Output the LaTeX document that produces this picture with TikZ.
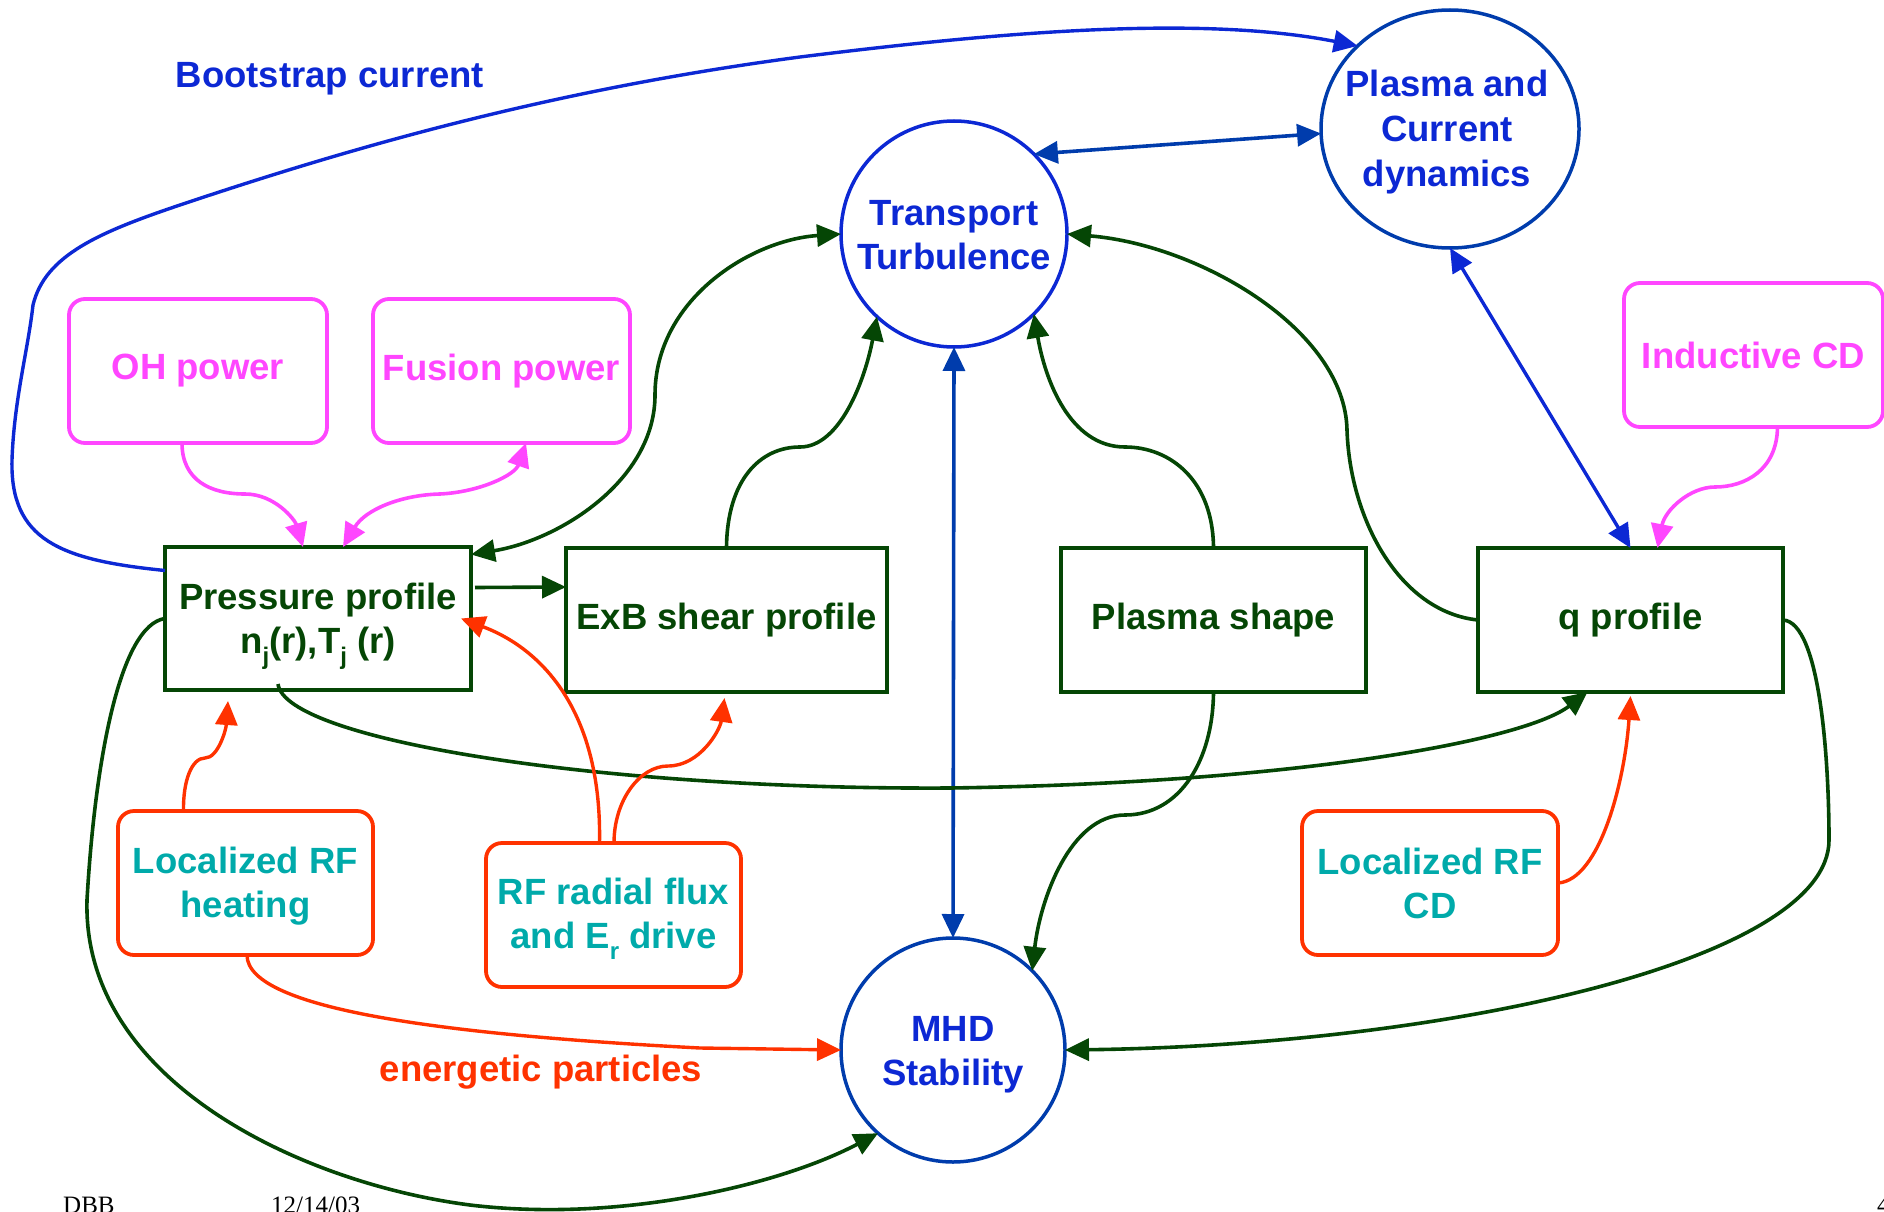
\documentclass[tikz,border=0pt]{standalone}
\usepackage{fontspec}
\setmainfont{Liberation Sans}
\newfontfamily\datefont{Liberation Serif}
\usetikzlibrary{arrows.meta,shapes.geometric,calc}
\definecolor{dgreen}{RGB}{5,70,5}
\definecolor{tblue}{RGB}{12,40,212}
\definecolor{dblue}{RGB}{0,60,172}
\definecolor{pinkc}{RGB}{255,70,255}
\definecolor{redc}{RGB}{255,50,0}
\definecolor{tealc}{RGB}{0,170,170}
\newcommand\lowsub[1]{\raisebox{-11pt}{\fontsize{24}{24}\selectfont #1}}
\begin{document}
\begin{tikzpicture}[x=1pt,y=-1pt,
  >={Triangle[length=24pt,width=22pt]},
  txt/.style={font=\fontsize{36.5}{44}\selectfont\bfseries, align=center},
  gbox/.style={txt, draw=dgreen, line width=4pt, text=dgreen, minimum width=#1, minimum height=144pt, inner sep=0pt, outer sep=0pt},
  gbox/.default=305pt,
  pbox/.style={txt, draw=pinkc, line width=3.8pt, text=pinkc, rounded corners=16pt, minimum width=#1, minimum height=144pt, inner sep=0pt, outer sep=0pt},
  pbox/.default=258pt,
  rbox/.style={txt, draw=redc, line width=3.8pt, text=tealc, rounded corners=16pt, minimum width=#1, minimum height=144pt, inner sep=0pt, outer sep=0pt},
  rbox/.default=256pt,
  ctext/.style={txt, text=tblue, inner sep=0pt},
  circ/.style={circle, line width=3.5pt, inner sep=0pt, outer sep=0pt},
  gline/.style={draw=dgreen, line width=3.6pt},
  rline/.style={draw=redc, line width=3.4pt},
  pline/.style={draw=pinkc, line width=3.6pt},
  bline/.style={draw=tblue, line width=3.4pt},
  dline/.style={draw=dblue, line width=3.6pt},
  lbl/.style={txt, inner sep=0pt},
  foot/.style={font=\datefont\fontsize{25}{25}\selectfont, inner sep=0pt, anchor=base west}
]
\useasboundingbox (0,0) rectangle (1884,1212);
\clip (0,0) rectangle (1884,1212);

% main nodes
\node[circ, draw=tblue, minimum size=226pt, label={[ctext, yshift=-1pt]center:{Transport\\Turbulence}}] (tt) at (954,234) {};
\node[ellipse, draw=dblue, line width=3.5pt, inner sep=0pt, outer sep=0pt, minimum width=258pt, minimum height=238pt, label={[ctext, xshift=-3pt, yshift=-3pt, font=\fontsize{36.5}{45}\selectfont\bfseries]center:{Plasma and\\Current\\dynamics}}] (pcd) at (1450,129) {};
\node[circ, draw=dblue, minimum size=224pt, label={[ctext, yshift=-5pt]center:{MHD\\Stability}}] (mhd) at (953,1050) {};

\node[gbox=306pt, minimum height=143pt, label={[txt, text=dgreen, inner sep=0pt, yshift=-8pt]center:{Pressure profile\\n\lowsub{j}(r),T\lowsub{j} (r)}}] (p) at (318,618.5) {};
\node[gbox=321pt] (e) at (726.5,620) {ExB shear profile};
\node[gbox] (s) at (1213.5,620) {Plasma shape};
\node[gbox] (q) at (1630.5,620) {q profile};

\node[pbox] (oh) at (198,371) {OH power};
\node[pbox=257pt] (fu) at (501.5,371) {Fusion power};
\node[pbox=259pt] (ind) at (1753.5,355) {Inductive CD};

\node[rbox=255pt, label={[txt, text=tealc, inner sep=0pt, yshift=-3pt]center:{Localized RF\\heating}}] (h) at (245.5,883) {};
\node[rbox=255pt, label={[txt, text=tealc, inner sep=0pt, yshift=-4pt]center:{RF radial flux\\and E\lowsub{r} drive}}] (r) at (613.5,915) {};
\node[rbox] (cd) at (1430,883) {Localized RF\\CD};

% labels
\node[lbl, text=tblue] (bslabel) at (330,79) {Bootstrap current};
\node[lbl, text=redc] (eplabel) at (541,1072) {energetic particles};
\node[foot] (dbb) at (63,1213) {DBB};
\node[foot] (date) at (271,1213) {12/14/03};
\node[foot] (pg) at (1877,1213) {4};

% bootstrap current
\draw[bline, ->] ($(p.west)+(0,-48)$) .. controls (60,560) and (10,540) .. (12,460)
  .. controls (14,400) and (28,350) .. (33,305)
  .. controls (45,255) and (100,232) .. (180,205)
  .. controls (350,148) and (550,90) .. (800,57)
  .. controls (1000,32) and (1200,15) .. (pcd.138);

% blue double arrows
\draw[dline, <->] (tt.45) -- (pcd.182);
\draw[bline, <->] (pcd.south) -- (q.north);
\draw[dline, <->] (tt.south) -- (mhd.north);

% pink
\draw[pline, ->] ($(oh.south)+(-16,0)$) .. controls (182,480) and (210,494) .. (245,494)
  .. controls (275,494) and (295,520) .. ($(p.north)+(-15,0)$);
\draw[pline, <->] ($(p.north)+(25,0)$) .. controls (365,510) and (400,495) .. (440,494)
  .. controls (480,492) and (515,475) .. ($(fu.south)+(24.5,0)$);
\draw[pline, ->] ($(ind.south)+(24,0)$) .. controls (1777,470) and (1745,487) .. (1715,487)
  .. controls (1690,487) and (1665,510) .. ($(q.north)+(27,0)$);

% green
\draw[gline, ->] ($(p.east)+(4,-31)$) -- ($(e.west)+(0,-33)$);
\draw[gline, <->] ($(p.east)+(0,-64)$) .. controls (560,540) and (655,480) .. (655,395)
  .. controls (655,300) and (750,240) .. (tt.west);
\draw[gline, ->] (e.north) .. controls (727,480) and (760,447) .. (800,447)
  .. controls (840,447) and (865,380) .. (tt.227);
\draw[gline, ->] (s.north) .. controls (1213,480) and (1170,447) .. (1125,447)
  .. controls (1070,447) and (1045,380) .. (tt.315);
\draw[gline, ->] (q.west) .. controls (1400,612) and (1350,520) .. (1347,430)
  .. controls (1345,330) and (1200,245) .. (tt.east);
\draw[gline, ->] ($(p.south)+(-40,-6)$) .. controls (285,740) and (600,790) .. (950,788)
  .. controls (1300,783) and (1525,740) .. ($(q.south)+(-43,0)$);
\draw[gline, ->] (p.west) .. controls (120,625) and (95,760) .. (87,900)
  .. controls (82,1080) and (300,1183) .. (470,1205)
  .. controls (620,1223) and (780,1185) .. (mhd.228);
\draw[gline, ->] (s.south) .. controls (1213,760) and (1180,815) .. (1125,815)
  .. controls (1070,815) and (1040,900) .. (mhd.45);
\draw[gline, ->] (q.east) .. controls (1820,622) and (1829,760) .. (1829,840)
  .. controls (1829,960) and (1450,1045) .. (mhd.east);

% red
\draw[rline, ->] ($(h.north)+(-62,0)$) .. controls (183,780) and (192,758) .. (205,758)
  .. controls (218,758) and (226,730) .. ($(p.south)+(-90,11)$);
\draw[rline, ->] ($(r.north)+(-14,0)$) .. controls (602,715) and (545,650) .. ($(p.east)+(-10,0)$);
\draw[rline, ->] ($(r.north)+(0.5,0)$) .. controls (614,800) and (640,766) .. (668,766)
  .. controls (700,766) and (720,730) .. ($(e.south)+(-2,6)$);
\draw[rline, ->] (cd.east) .. controls (1600,880) and (1625,780) .. ($(q.south)+(0,4)$);
\draw[rline, ->] ($(h.south)+(1.5,0)$) .. controls (247,1010) and (450,1035) .. (700,1048) -- (mhd.west);
\end{tikzpicture}
\end{document}
